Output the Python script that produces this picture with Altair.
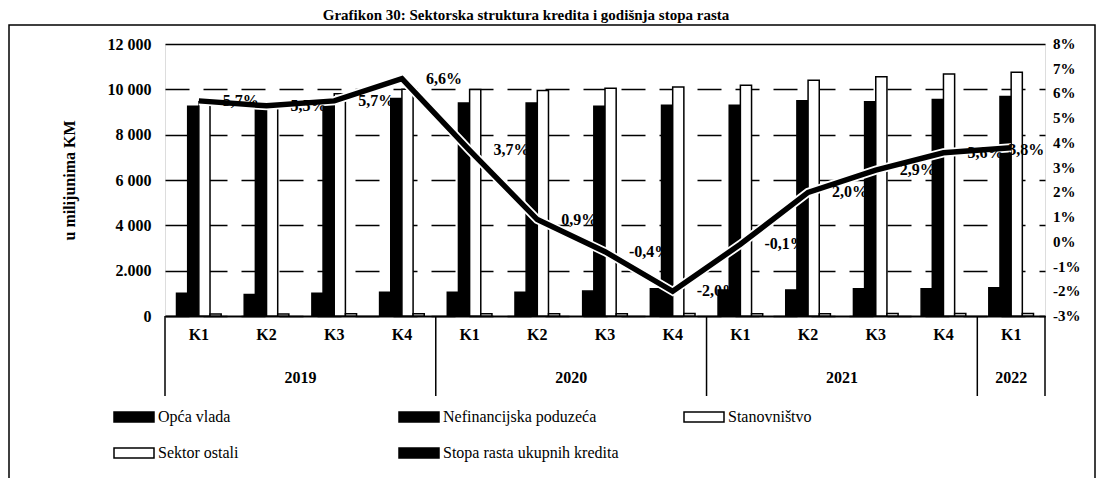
import altair as alt
import pandas as pd

# ---------------- data ----------------
years = ["2019"] * 4 + ["2020"] * 4 + ["2021"] * 4 + ["2022"]
quarters = ["K1", "K2", "K3", "K4"] * 3 + ["K1"]

opca_vlada = [1000, 950, 1000, 1050, 1050, 1050, 1100, 1200, 1150, 1150, 1200, 1200, 1250]
nefinancijska = [9250, 9250, 9550, 9600, 9400, 9400, 9250, 9300, 9300, 9500, 9450, 9550, 9680]
stanovnistvo = [9450, 9350, 9800, 10000, 9990, 9950, 10050, 10100, 10180, 10400, 10550, 10680, 10750]
sektor_ostali = [90, 90, 95, 100, 100, 95, 100, 105, 100, 100, 105, 110, 110]
stopa_rasta = [5.7, 5.5, 5.7, 6.6, 3.7, 0.9, -0.4, -2.0, -0.1, 2.0, 2.9, 3.6, 3.8]

series_names = ["Opća vlada", "Nefinancijska poduzeća", "Stanovništvo",
                "Sektor ostali", "Stopa rasta ukupnih kredita"]
series_fill = ["black", "black", "white", "white", "black"]

y_tick_values = [0, 2000, 4000, 6000, 8000, 10000, 12000]
y_tick_labels = ["0", "2.000", "4 000", "6 000", "8 000", "10 000", "12 000"]
right_tick_values = [-3, -2, -1, 0, 1, 2, 3, 4, 5, 6, 7, 8]

title_text = "Grafikon 30: Sektorska struktura kredita i godišnja stopa rasta"
y_title = "u milijunima KM"

FONT = "Liberation Serif"
W, H = 880, 272

# ---------------- tables ----------------
cats = [f"{y} {q}" for y, q in zip(years, quarters)]
bar_series = series_names[:4]
bar_values = [opca_vlada, nefinancijska, stanovnistvo, sektor_ostali]

bar_rows = []
for i, c in enumerate(cats):
    for s, vals in zip(bar_series, bar_values):
        bar_rows.append({"cat": c, "series": s, "value": vals[i]})
bars_df = pd.DataFrame(bar_rows)

line_df = pd.DataFrame({
    "cat": cats,
    "rate": stopa_rasta,
    "label": [f"{v:.1f}".replace(".", ",") + "%" for v in stopa_rasta],
    "last": [i == len(cats) - 1 for i in range(len(cats))],
})

year_order = []
for y in years:
    if y not in year_order:
        year_order.append(y)
counts = [years.count(y) for y in year_order]
starts = [sum(counts[:k]) for k in range(len(counts))]
year_df = pd.DataFrame({
    "year": year_order,
    "mid": [s + c / 2 for s, c in zip(starts, counts)],
})
sep_df = pd.DataFrame({"pos": starts + [len(cats)]})
right_df = pd.DataFrame({
    "rate": right_tick_values,
    "label": [f"{v}%" for v in right_tick_values],
})
one_df = pd.DataFrame({"t": [title_text]})

# ---------------- encodings ----------------
PAD_IN = 0.34
x_band = alt.X(
    "cat:N", sort=cats,
    scale=alt.Scale(domain=cats, paddingInner=PAD_IN, paddingOuter=PAD_IN / 2),
    axis=alt.Axis(
        title=None, labelAngle=0, ticks=False,
        labelExpr="split(datum.value, ' ')[1]",
        domain=True, domainColor="black", domainWidth=2,
        labelFont=FONT, labelFontWeight="bold", labelFontSize=16,
        labelColor="black", labelPadding=10,
    ),
)

label_expr = "[" + ",".join(f"'{t}'" for t in y_tick_labels) + "][indexof([" + \
    ",".join(str(v) for v in y_tick_values) + "], datum.value)]"

bars = alt.Chart(bars_df).mark_bar(stroke="black", strokeWidth=1.5).encode(
    x=x_band,
    xOffset=alt.XOffset("series:N", sort=bar_series,
                        scale=alt.Scale(domain=bar_series, paddingInner=0, paddingOuter=0)),
    y=alt.Y("value:Q",
            scale=alt.Scale(domain=[0, 12000], nice=False, zero=True),
            axis=alt.Axis(
                values=y_tick_values, labelExpr=label_expr,
                grid=True, gridColor="black", gridWidth=1.3,
                gridDash={"condition": {"test": "datum.value === 12000", "value": [1, 0]},
                          "value": [24, 14]},
                domain=False, ticks=False, labelPadding=14,
                labelFont=FONT, labelFontWeight="bold", labelFontSize=16, labelColor="black",
                title=y_title, titleFont=FONT, titleFontWeight="bold", titleFontSize=16,
                titleColor="black", titlePadding=30,
            )),
    fill=alt.Fill("series:N",
                  scale=alt.Scale(domain=series_names, range=series_fill),
                  legend=alt.Legend(
                      title=None, orient="none", legendX=-52, legendY=352,
                      direction="horizontal", columns=3, gridAlign="all",
                      columnPadding=62, rowPadding=7,
                      symbolType="M-1,-0.25H1V0.25H-1Z", symbolSize=1600,
                      symbolStrokeColor="black", symbolStrokeWidth=1.5,
                      labelFont=FONT, labelFontSize=16, labelColor="black",
                      labelOffset=3, labelLimit=400,
                  )),
)

rate_scale = alt.Scale(domain=[-3, 8], nice=False, zero=False)
halo = alt.Chart(line_df).mark_line(color="white", strokeWidth=9).encode(
    x=alt.X("cat:N", sort=cats), y=alt.Y("rate:Q", scale=rate_scale, axis=None))
line = alt.Chart(line_df).mark_line(color="black", strokeWidth=5.5).encode(
    x=alt.X("cat:N", sort=cats), y=alt.Y("rate:Q", axis=None))
rate_labels = alt.Chart(line_df).transform_filter("!datum.last").mark_text(
    align="left", dx=24, font=FONT, fontWeight="bold", fontSize=16, color="black"
).encode(x=alt.X("cat:N", sort=cats), y=alt.Y("rate:Q", axis=None), text="label:N")
last_label = alt.Chart(line_df).transform_filter("datum.last").mark_text(
    align="left", dx=-3, dy=2, font=FONT, fontWeight="bold", fontSize=16, color="black"
).encode(x=alt.X("cat:N", sort=cats), y=alt.Y("rate:Q", axis=None), text="label:N")
# right-hand percentage scale labels, placed through the same rate scale
right_labels = alt.Chart(right_df).mark_text(
    align="left", baseline="middle", font=FONT, fontWeight="bold", fontSize=15, color="black"
).encode(x=alt.value(W + 8), y=alt.Y("rate:Q", axis=None), text="label:N")

line_group = alt.layer(halo, line, rate_labels, last_label, right_labels)
core = alt.layer(bars, line_group).resolve_scale(y="independent")

x_q = alt.Scale(domain=[0, len(cats)], nice=False, zero=False)
separators = alt.Chart(sep_df).mark_rule(color="black", strokeWidth=1.5).encode(
    x=alt.X("pos:Q", scale=x_q, axis=None),
    y=alt.value(H), y2=alt.value(H + 80))
year_labels = alt.Chart(year_df).mark_text(
    font=FONT, fontWeight="bold", fontSize=16, color="black", baseline="middle"
).encode(x=alt.X("mid:Q", scale=x_q, axis=None), y=alt.value(H + 62), text="year:N")
deco = alt.layer(separators, year_labels)

border = alt.Chart(one_df).mark_rect(fillOpacity=0, stroke="black", strokeWidth=1.5).encode(
    x=alt.value(-156), x2=alt.value(930), y=alt.value(-19), y2=alt.value(445))
title = alt.Chart(one_df).mark_text(
    font=FONT, fontWeight="bold", fontSize=15, color="black", baseline="alphabetic"
).encode(x=alt.value(361), y=alt.value(-24), text="t:N")

chart = alt.layer(core, deco, border, title).resolve_scale(x="independent").properties(
    width=W, height=H,
    autosize=alt.AutoSizeParams(type="none"),
    padding={"left": 157, "top": 36, "right": 52, "bottom": 162},
).configure_view(stroke=None).configure(background="white")

chart.save("out.html", embed_options={"renderer": "svg", "actions": False})
